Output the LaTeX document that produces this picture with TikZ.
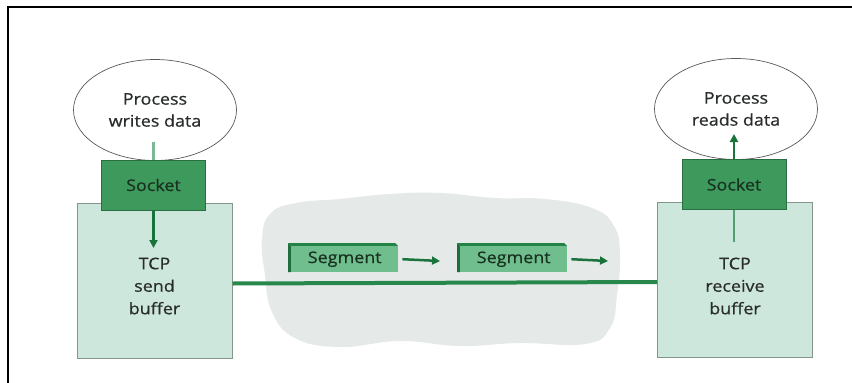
\documentclass[tikz,border=0pt]{standalone}
\usepackage{fontspec}
\setmainfont[FakeStretch=1.12,FakeBold=0.6]{Open Sans}
\usetikzlibrary{arrows.meta,shapes.geometric}
\definecolor{sockfill}{RGB}{61,153,92}
\definecolor{sockdraw}{RGB}{40,110,65}
\definecolor{buffill}{RGB}{206,231,221}
\definecolor{bufdraw}{RGB}{130,150,140}
\definecolor{segface}{RGB}{112,190,142}
\definecolor{segedge}{RGB}{35,130,70}
\definecolor{arrowc}{RGB}{25,115,60}
\definecolor{linkc}{RGB}{40,135,75}
\definecolor{cloudc}{RGB}{229,233,232}
\definecolor{txtc}{RGB}{40,44,42}
\definecolor{socktxt}{RGB}{25,50,32}
\begin{document}
\begin{tikzpicture}[x=1pt,y=-1pt,
  proc/.style={draw=black!65, line width=0.7pt, fill=white, ellipse, inner sep=0pt,
    minimum width=163pt, minimum height=101pt, align=center, text=txtc,
    font=\fontsize{16}{22}\selectfont},
  sockbox/.style={draw=sockdraw, line width=0.8pt, fill=sockfill, inner sep=0pt,
    minimum width=104pt, minimum height=50pt, text=socktxt,
    font=\fontsize{16}{22}\selectfont},
  bufbox/.style={draw=bufdraw, line width=1pt, fill=buffill, inner sep=0pt,
    minimum width=155pt, minimum height=155pt},
  buftext/.style={align=center, text=txtc, inner sep=0pt,
    font=\fontsize{16}{22.5}\selectfont},
  segbox/.style={fill=segface, inner sep=0pt, minimum width=107pt, minimum height=26pt,
    text=socktxt, font=\fontsize{16}{20}\selectfont},
  flow/.style={draw=arrowc, line width=2.8pt, -{Triangle[length=8pt,width=8pt]}},
  feed/.style={draw=linkc!60, line width=2.2pt}
]
\useasboundingbox (0,0) rectangle (852,383);
\fill[white] (0,0) rectangle (852,383);
% frame
\draw[line width=2pt] (7.5,383) -- (7.5,7) -- (852,7);
% cloud
\fill[cloudc] plot[smooth cycle, tension=0.75] coordinates {
  (270,214) (296,203) (340,199) (390,194) (440,193) (495,198) (545,199) (592,208) (614,226)
  (620,255) (617,295) (610,328) (585,344) (520,343) (460,346) (400,341)
  (340,347) (295,338) (272,312) (265,275) (262,240)};
% buffers
\node[bufbox] (sbuf) at (154.5,280.5) {};
\node[bufbox] (rbuf) at (735,280) {};
\node[buftext] (sbuft) at (154.5,286) {TCP\\send\\buffer};
\node[buftext] (rbuft) at (735,286) {TCP\\receive\\buffer};
% processes
\node[proc] (wproc) at (155,110) {Process\\writes data};
\node[proc] (rproc) at (736,109) {Process\\reads data};
% sockets
\node[sockbox] (wsock) at (153.5,185) {Socket};
\node[sockbox] (rsock) at (734,184.5) {Socket};
% link between buffers
\draw[linkc, line width=4pt] ([yshift=-3pt]sbuf.east) -- ([yshift=-2pt]rbuf.west);
% segments
\foreach \n/\xl in {sega/288, segb/457}{
  \fill[segedge] (\xl,243) -- (\xl+107,243) -- (\xl+110,246) -- (\xl+3,246) -- cycle;
  \fill[segedge!85!black] (\xl,243) -- (\xl+3,246) -- (\xl+3,272) -- (\xl,272) -- cycle;
  \node[segbox, anchor=north west] (\n) at (\xl+3,246) {Segment};
}
\coordinate (segaend) at (440,261);
\coordinate (segbend) at (608,261);
\draw[flow, line width=2.5pt] ([xshift=4pt]sega.east) -- (segaend);
\draw[flow, line width=2.5pt] ([xshift=4pt]segb.east) -- (segbend);
% write side
\coordinate (wstart) at (153.5,142);
\coordinate (wend) at (153.5,248);
\draw[feed] (wstart) -- (wsock.north);
\draw[flow] (wsock.south) -- (wend);
% read side
\coordinate (rstart) at (734,242);
\coordinate (rend) at (734,134);
\draw[feed, draw=linkc!80] (rstart) -- (rsock.south);
\draw[flow] (rsock.north) -- (rend);
\end{tikzpicture}
\end{document}
